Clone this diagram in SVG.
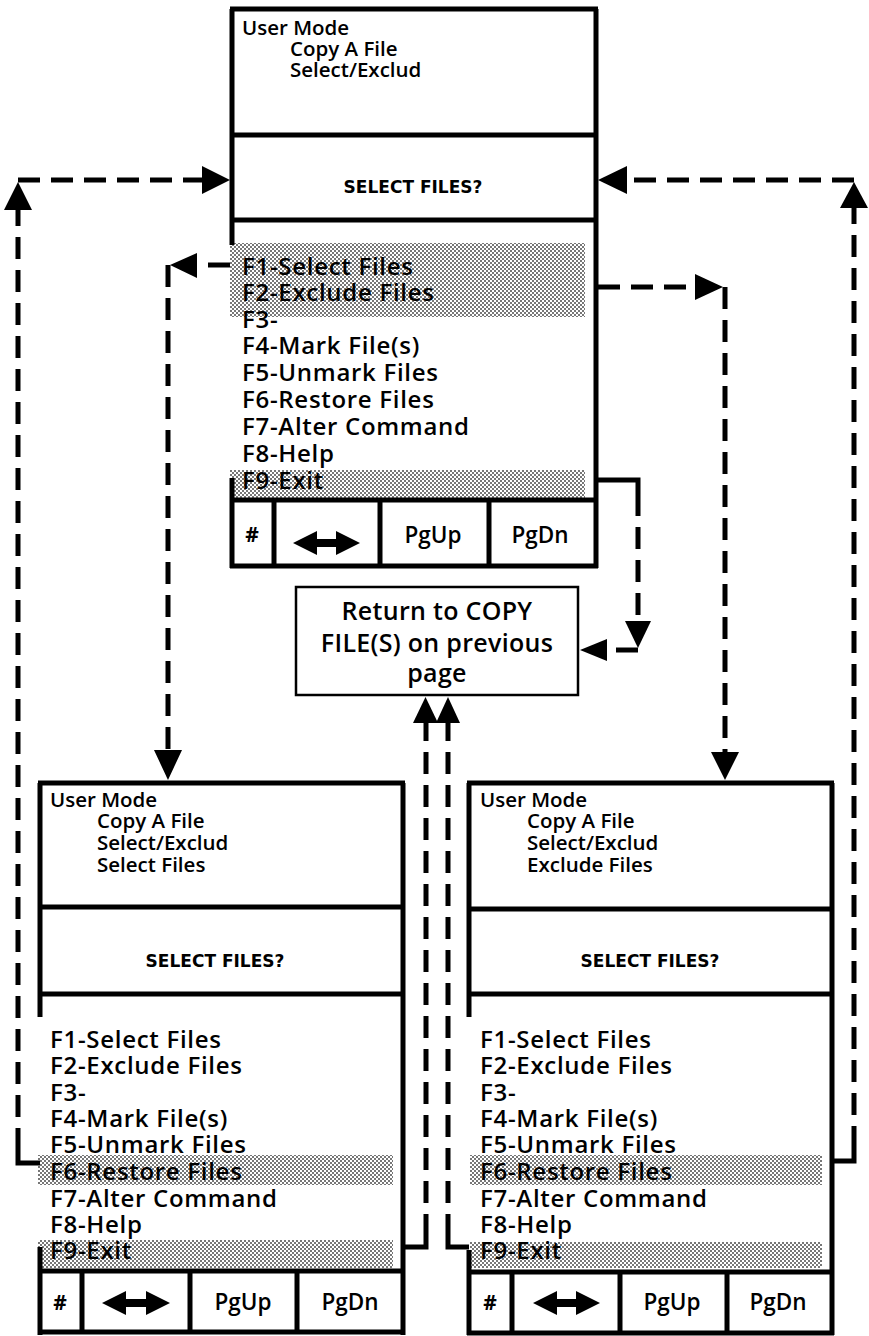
<svg xmlns="http://www.w3.org/2000/svg" width="869" height="1336" viewBox="0 0 869 1336">
<style>
.ln{fill:none;stroke:#000;stroke-width:5}
.thin{fill:none;stroke:#000;stroke-width:2.5}
.dash{fill:none;stroke:#000;stroke-width:5;stroke-dasharray:22 11}
.ah{fill:#000;stroke:none}
.t{font-family:"Open Sans","Noto Sans","DejaVu Sans",sans-serif;fill:#000}
.hdr{font-size:20.5px;font-weight:600}
.menu{font-size:24px;font-weight:600;letter-spacing:0.7px}
.q{font-family:"DejaVu Sans","Open Sans",sans-serif;font-size:17px;font-weight:700;text-anchor:middle}
.btn{font-size:22.5px;font-weight:600;text-anchor:middle}
.hash{font-size:21px;font-weight:700;text-anchor:middle}
.ret{font-size:25px;font-weight:600;text-anchor:middle;letter-spacing:0.3px}
.shade{fill:url(#ht)}
</style>
<defs>
<pattern id="ht" width="4" height="4" patternUnits="userSpaceOnUse">
<rect width="4" height="4" fill="#fff"/>
<rect x="0" y="0" width="2" height="2" fill="#777"/>
<rect x="2" y="2" width="2" height="2" fill="#777"/>
</pattern>
</defs>
<rect width="869" height="1336" fill="#fff"/>

<g id="node-top">
<rect class="shade" x="230" y="243" width="355" height="74"/>
<rect class="shade" x="230" y="470" width="355" height="28"/>
<path class="ln" d="M230,9 H598 M596,9 V568 M232,9 V245 M232,478 V568 M230,566 H598 M232,135 H596 M232,220 H596 M232,500 H596 M274,500 V566 M380,500 V566 M489,500 V566"/>
<text class="t hdr" x="242" y="35">User Mode</text>
<text class="t hdr" x="290" y="56">Copy A File</text>
<text class="t hdr" x="290" y="77">Select/Exclud</text>
<text class="t q" x="413" y="193">SELECT FILES?</text>
<text class="t menu" x="242" y="275">F1-Select Files</text>
<text class="t menu" x="242" y="301">F2-Exclude Files</text>
<text class="t menu" x="242" y="328">F3-</text>
<text class="t menu" x="242" y="354">F4-Mark File(s)</text>
<text class="t menu" x="242" y="381">F5-Unmark Files</text>
<text class="t menu" x="242" y="408">F6-Restore Files</text>
<text class="t menu" x="242" y="435">F7-Alter Command</text>
<text class="t menu" x="242" y="462">F8-Help</text>
<text class="t menu" x="242" y="489">F9-Exit</text>
<text class="t hash" x="252" y="542">#</text>
<polygon class="ah" points="293,543 317,531 317,539 336,539 336,531 360,543 336,555 336,547 317,547 317,555"/>
<text class="t btn" x="433" y="543">PgUp</text>
<text class="t btn" x="540" y="543">PgDn</text>
</g>

<g id="node-return">
<rect class="thin" x="296" y="587" width="282" height="108" fill="#fff"/>
<text class="t ret" x="437" y="620">Return to COPY</text>
<text class="t ret" x="437" y="652">FILE(S) on previous</text>
<text class="t ret" x="437" y="682">page</text>
</g>

<g id="node-left">
<rect class="shade" x="38" y="1155" width="355" height="30"/>
<rect class="shade" x="38" y="1240" width="355" height="28"/>
<path class="ln" d="M38,783 H405 M403,783 V1335 M40,783 V1017 M40,1247 V1335 M40,907 H403 M40,994 H403 M40,1271 H403 M38,1332 H405 M82,1271 V1332 M190,1271 V1332 M297,1271 V1332"/>
<text class="t hdr" x="50" y="807">User Mode</text>
<text class="t hdr" x="97" y="828">Copy A File</text>
<text class="t hdr" x="97" y="850">Select/Exclud</text>
<text class="t hdr" x="97" y="872">Select Files</text>
<text class="t q" x="215" y="967">SELECT FILES?</text>
<text class="t menu" x="50" y="1048">F1-Select Files</text>
<text class="t menu" x="50" y="1074">F2-Exclude Files</text>
<text class="t menu" x="50" y="1101">F3-</text>
<text class="t menu" x="50" y="1127">F4-Mark File(s)</text>
<text class="t menu" x="50" y="1153">F5-Unmark Files</text>
<text class="t menu" x="50" y="1180">F6-Restore Files</text>
<text class="t menu" x="50" y="1207">F7-Alter Command</text>
<text class="t menu" x="50" y="1233">F8-Help</text>
<text class="t menu" x="50" y="1259">F9-Exit</text>
<text class="t hash" x="60" y="1310">#</text>
<polygon class="ah" points="102,1303 126,1291 126,1299 146,1299 146,1291 170,1303 146,1315 146,1307 126,1307 126,1315"/>
<text class="t btn" x="243" y="1310">PgUp</text>
<text class="t btn" x="350" y="1310">PgDn</text>
</g>

<g id="node-right">
<rect class="shade" x="470" y="1155" width="352" height="30"/>
<rect class="shade" x="470" y="1242" width="352" height="26"/>
<path class="ln" d="M467,783 H834 M832,783 V1335 M469,783 V1017 M469,1250 V1335 M469,909 H832 M469,994 H832 M469,1272 H832 M467,1333 H834 M512,1272 V1333 M620,1272 V1333 M727,1272 V1333"/>
<text class="t hdr" x="480" y="807">User Mode</text>
<text class="t hdr" x="527" y="828">Copy A File</text>
<text class="t hdr" x="527" y="850">Select/Exclud</text>
<text class="t hdr" x="527" y="872">Exclude Files</text>
<text class="t q" x="650" y="967">SELECT FILES?</text>
<text class="t menu" x="480" y="1048">F1-Select Files</text>
<text class="t menu" x="480" y="1074">F2-Exclude Files</text>
<text class="t menu" x="480" y="1101">F3-</text>
<text class="t menu" x="480" y="1127">F4-Mark File(s)</text>
<text class="t menu" x="480" y="1153">F5-Unmark Files</text>
<text class="t menu" x="480" y="1180">F6-Restore Files</text>
<text class="t menu" x="480" y="1207">F7-Alter Command</text>
<text class="t menu" x="480" y="1233">F8-Help</text>
<text class="t menu" x="480" y="1259">F9-Exit</text>
<text class="t hash" x="490" y="1310">#</text>
<polygon class="ah" points="533,1303 557,1291 557,1299 576,1299 576,1291 600,1303 576,1315 576,1307 557,1307 557,1315"/>
<text class="t btn" x="672" y="1310">PgUp</text>
<text class="t btn" x="778" y="1310">PgDn</text>
</g>

<g id="connectors">
<path class="ln" d="M40,1163 H18 V1150"/>
<path class="dash" d="M18,1150 V210"/>
<polygon class="ah" points="4,210 32,210 18,182"/>
<path class="dash" d="M18,180 H202"/>
<polygon class="ah" points="202,166 202,194 230,180"/>
<path class="ln" d="M832,1161 H854 V1148"/>
<path class="dash" d="M854,1148 V208"/>
<polygon class="ah" points="840,208 868,208 854,182"/>
<path class="dash" d="M854,180 H627"/>
<polygon class="ah" points="627,166 627,194 598,180"/>
<path class="dash" d="M230,265 H197"/>
<polygon class="ah" points="197,253 197,278 170,265"/>
<path class="dash" d="M168,265 V750"/>
<polygon class="ah" points="154,750 182,750 168,780"/>
<path class="dash" d="M598,287 H695"/>
<polygon class="ah" points="695,274 695,300 723,287"/>
<path class="dash" d="M725,287 V752"/>
<polygon class="ah" points="711,752 739,752 725,780"/>
<path class="ln" d="M598,480 H638 V494"/>
<path class="dash" d="M638,494 V621"/>
<polygon class="ah" points="625,621 651,621 638,648"/>
<path class="dash" d="M638,650 H607"/>
<polygon class="ah" points="607,639 607,661 580,650"/>
<path class="ln" d="M403,1247 H426 V1236"/>
<path class="dash" d="M426,1236 V723"/>
<polygon class="ah" points="413,723 438,723 425.5,697"/>
<path class="ln" d="M469,1247 H448 V1236"/>
<path class="dash" d="M448,1236 V723"/>
<polygon class="ah" points="436,723 460,723 448,697"/>
</g>
</svg>
